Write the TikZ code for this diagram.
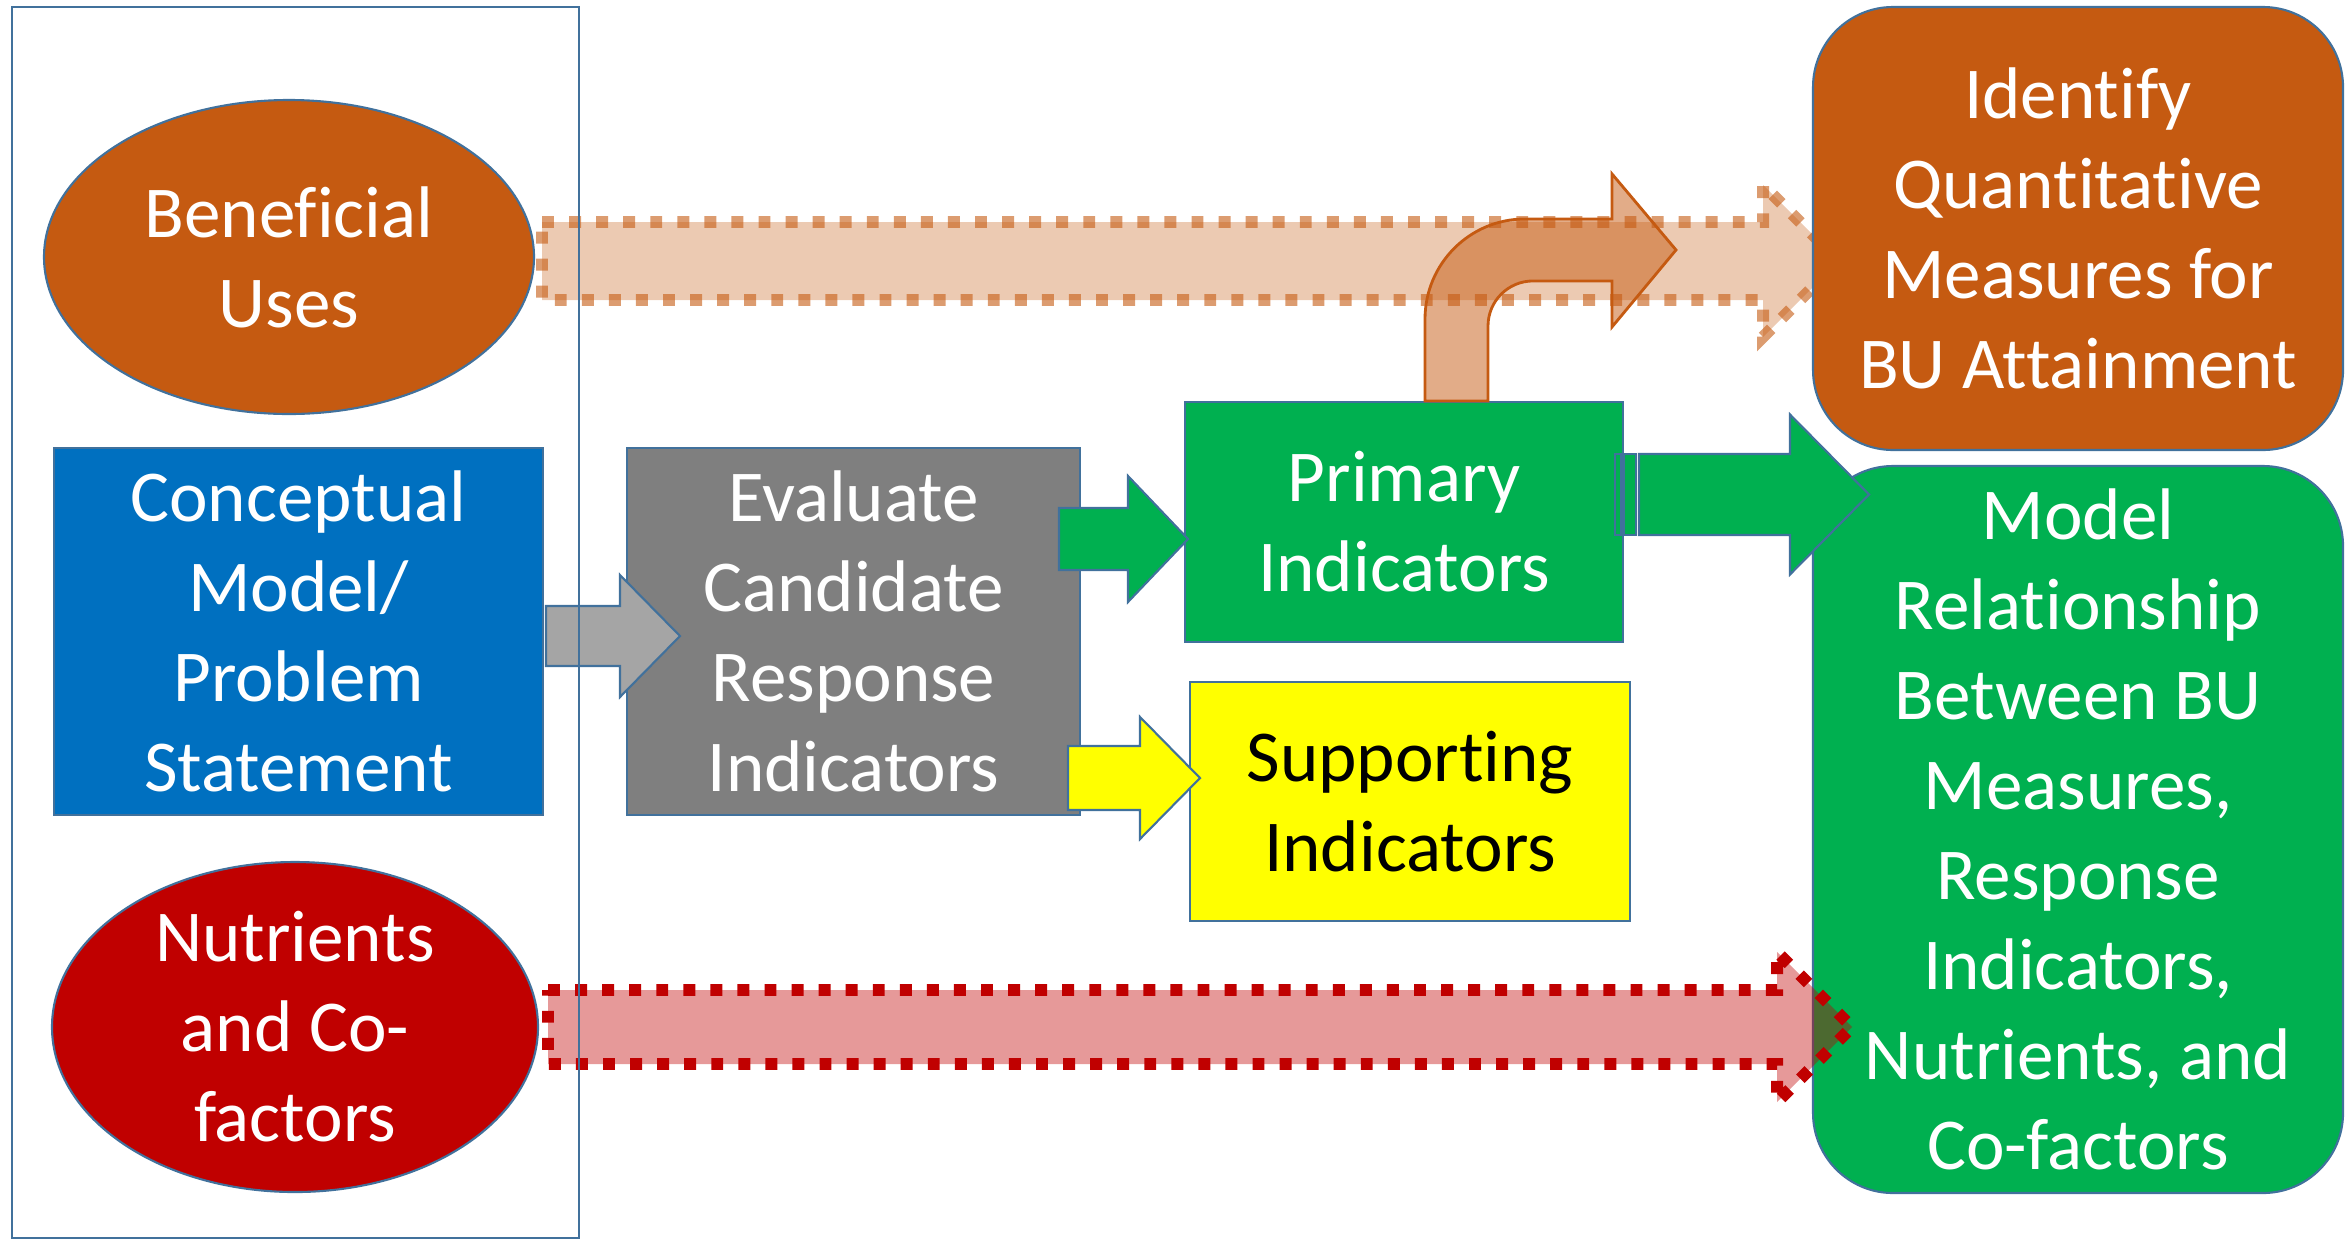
\documentclass[tikz,border=0pt]{standalone}
\usepackage{fontspec}
\setmainfont{Carlito}[Ligatures=NoCommon]
\usepackage{tikz, xcolor}
\usetikzlibrary{shapes,arrows,backgrounds}

\definecolor{buorange}{HTML}{C55A11}
\definecolor{cmblue}{HTML}{0070C0}
\definecolor{evgray}{HTML}{7F7F7F}
\definecolor{argray}{HTML}{A5A5A5}
\definecolor{pigreen}{HTML}{00B050}
\definecolor{ncred}{HTML}{C00000}
\definecolor{siyellow}{HTML}{FFFF00}
\definecolor{edgeblue}{HTML}{41719C}

% block arrow: [style]{start}{length}{shaft half}{head half}{head length}
\newcommand{\blockarrow}[6][]{\draw[#1] (#2) ++(0,#4) -- ++(#3-#6,0) -- ++(0,#5-#4) -- ++(#6,-#5) -- ++(-#6,-#5) -- ++(0,#5-#4) -- ++(-#3+#6,0) -- cycle;}

\begin{document}
\begin{tikzpicture}[font=\fontsize{20.8pt}{25.6pt}\selectfont]
\tikzstyle{vertexe}=[ellipse, draw=edgeblue, line width=0.6pt, text=white, align=center, inner sep=0pt]
\tikzstyle{vertexr}=[rectangle, draw=edgeblue, line width=0.6pt, text=white, align=center, inner sep=0pt]
\tikzstyle{vertexrr}=[vertexr, rounded corners=0.8cm]
\tikzstyle{blockstyle}=[draw=edgeblue, line width=0.6pt]
\tikzstyle{dotstyle}=[line width=3.4pt, dash pattern=on 3.4pt off 4.3pt]

\useasboundingbox (0,0) rectangle (23.51,-12.41);

\node[vertexe, fill=buorange, minimum width=4.9cm, minimum height=3.14cm] (N0x0) at (2.89,-2.57) {Beneficial\\Uses};
\node[vertexr, fill=cmblue, minimum width=4.89cm, minimum height=3.67cm] (N0x1) at (2.985,-6.315) {Conceptual\\Model/\\Problem\\Statement};
\node[vertexe, fill=ncred, minimum width=4.86cm, minimum height=3.3cm] (N0x2) at (2.95,-10.27) {Nutrients\\and Co-\\factors};
\node[vertexr, fill=evgray, minimum width=4.53cm, minimum height=3.67cm] (N1x1) at (8.535,-6.315) {Evaluate\\Candidate\\Response\\Indicators};
\node[vertexr, fill=pigreen, minimum width=4.38cm, minimum height=2.4cm] (N2x1) at (14.04,-5.22) {Primary\\Indicators};
\node[vertexr, fill=siyellow, text=black, minimum width=4.4cm, minimum height=2.39cm] (N2x2) at (14.1,-8.015) {Supporting\\Indicators};
\node[vertexrr, fill=buorange, minimum width=5.3cm, minimum height=4.43cm] (N3x0) at (20.78,-2.285) {Identify\\Quantitative\\Measures for\\BU Attainment};
\node[vertexrr, fill=pigreen, minimum width=5.3cm, minimum height=7.27cm] (N3x1) at (20.78,-8.295) {Model\\Relationship\\Between BU\\Measures,\\Response\\Indicators,\\Nutrients, and\\Co-factors};

\coordinate (A0) at (5.42,-2.61);
\coordinate (A1) at (5.46,-6.36);
\coordinate (A2) at (10.59,-5.39);
\coordinate (A3) at (10.68,-7.78);
\coordinate (A4) at (16.39,-4.945);
\coordinate (A5) at (5.48,-10.27);
\coordinate (A6) at ([xshift=0.21cm]N2x1.north);

\begin{pgfonlayer}{background}
\blockarrow[dotstyle, draw=buorange, draw opacity=0.6, fill=buorange, fill opacity=0.32]{A0}{12.97}{0.39}{0.76}{0.76}
\end{pgfonlayer}

\blockarrow[blockstyle, fill=argray]{A1}{1.34}{0.30}{0.61}{0.60}
\blockarrow[blockstyle, fill=pigreen]{A2}{1.29}{0.31}{0.63}{0.60}
\blockarrow[blockstyle, fill=siyellow]{A3}{1.32}{0.32}{0.61}{0.60}
\draw[blockstyle, fill=pigreen] (16.15,-4.54) rectangle (16.36,-5.35);
\fill[edgeblue] (16.2,-4.54) rectangle (16.25,-5.35);
\blockarrow[blockstyle, fill=pigreen]{A4}{2.30}{0.405}{0.80}{0.79}

% bent arrow up from primary indicators
\draw[buorange, line width=0.8pt, fill=buorange, fill opacity=0.5] (A6) -- ++(0,0.82) arc[start angle=180, end angle=90, radius=1] -- ++(0.87,0) -- ++(0,0.45) -- ++(0.64,-0.76) -- ++(-0.64,-0.77) -- ++(0,0.46) -- ++(-0.79,0) arc[start angle=90, end angle=180, radius=0.45] -- ++(0,-0.75) -- cycle;

\blockarrow[dotstyle, draw=ncred, fill=ncred, fill opacity=0.4]{A5}{13.04}{0.37}{0.75}{0.75}

\draw[edgeblue, line width=0.6pt] (0.12,-0.07) rectangle (5.79,-12.38);
\end{tikzpicture}
\end{document}
